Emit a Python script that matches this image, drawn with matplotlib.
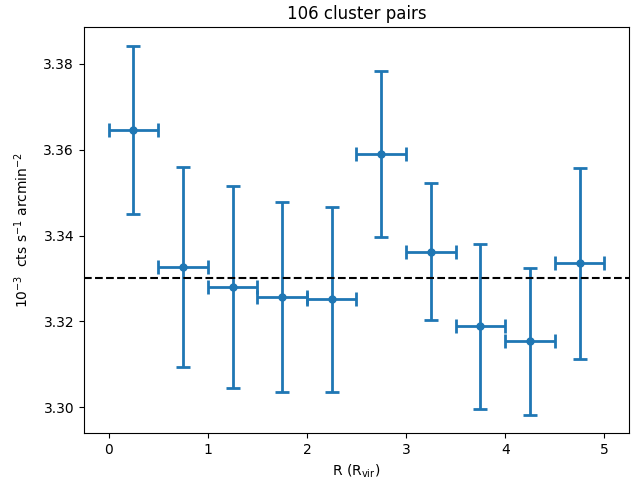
import matplotlib
matplotlib.use('Agg')

import matplotlib.pyplot as plt
import numpy as np

# radial bins (R_vir) and measured surface brightness
r_bins = np.array([0.25, 0.75, 1.25, 1.75, 2.25, 2.75, 3.25, 3.75, 4.25, 4.75])
r_halfwidth = np.array([0.25] * 10)
sb = np.array([3.3646, 3.3326, 3.3280, 3.3256, 3.3251, 3.3590, 3.3362, 3.3188, 3.3153, 3.3335])
sb_err = np.array([0.0197, 0.0233, 0.0236, 0.0221, 0.0215, 0.0193, 0.0160, 0.0193, 0.0171, 0.0222])
background = 3.3302

fig = plt.figure(figsize=(6.4, 4.84), dpi=100)
plt.errorbar(r_bins, sb, xerr=r_halfwidth, yerr=sb_err, fmt='o',
             elinewidth=2, capsize=5, capthick=2, markersize=5)
plt.axhline(background, color='k', linestyle='--', linewidth=1.5)
plt.title('106 cluster pairs')
plt.xlabel(r'R (R$_{\rm vir}$)')
plt.ylabel(r'$10^{-3}$  cts s$^{-1}$ arcmin$^{-2}$', labelpad=9)
plt.subplots_adjust(left=0.131, right=0.983, top=0.944, bottom=0.105)
plt.savefig('out.png', dpi=100)
plt.close()
